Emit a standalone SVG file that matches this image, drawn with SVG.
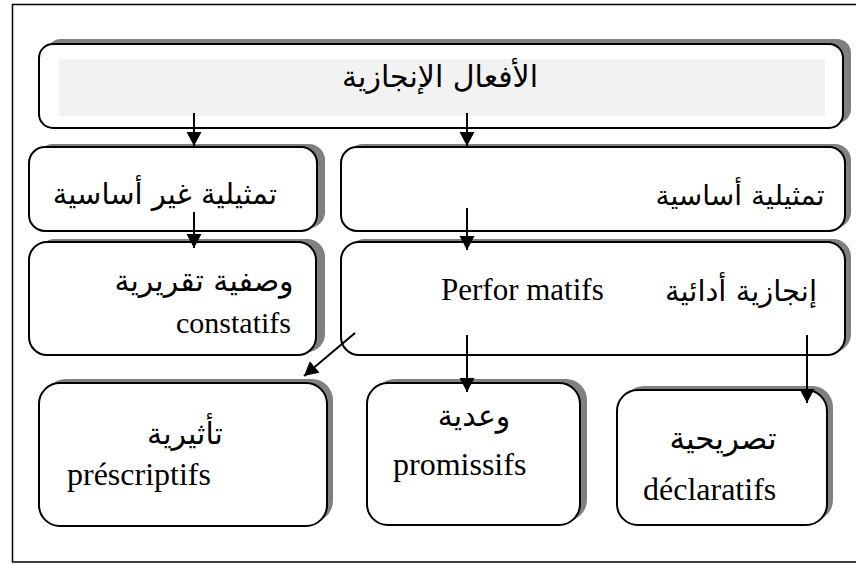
<svg xmlns="http://www.w3.org/2000/svg" width="856" height="564" viewBox="0 0 856 564">
<style>
.shadow{fill:#808080;stroke:none}
.box{fill:#fff;stroke:#000;stroke-width:2}
.conn line{stroke:#000;stroke-width:2;fill:none}
.ar{font-family:'DejaVu Sans',sans-serif;fill:#000;font-size:30px}
.lat{font-family:'Liberation Serif',serif;fill:#000;font-size:32px}
</style>
<defs>
<marker id="ah" markerUnits="userSpaceOnUse" markerWidth="15" markerHeight="16" refX="14" refY="7.5" orient="auto">
<path d="M0,0 L14,7.5 L0,15 z" fill="#000"/>
</marker>
</defs>
<rect x="12.5" y="4.5" width="860" height="557.5" fill="#fff" stroke="#000" stroke-width="1.5"/>

<g id="top">
<rect class="shadow" x="47" y="39" width="804" height="84" rx="14"/>
<rect class="box" x="39" y="44" width="804" height="84" rx="14"/>
<rect x="59" y="59" width="766" height="57" fill="#f2f2f2"/>
<text class="ar" x="440" y="87" text-anchor="middle">الأفعال الإنجازية</text>
</g>

<g id="nonbasic">
<rect class="shadow" x="37" y="144" width="288" height="84" rx="16"/>
<rect class="box" x="29" y="147" width="288" height="84" rx="16"/>
<text class="ar" x="165" y="204" text-anchor="middle" style="font-size:29px">تمثيلية غير أساسية</text>
</g>

<g id="basic">
<rect class="shadow" x="347" y="144" width="504" height="84" rx="16"/>
<rect class="box" x="341" y="147" width="504" height="84" rx="16"/>
<text class="ar" x="740" y="205" text-anchor="middle" style="font-size:28px">تمثيلية أساسية</text>
</g>

<g id="constatifs">
<rect class="shadow" x="37" y="239" width="288" height="113" rx="18"/>
<rect class="box" x="29" y="242" width="287" height="113" rx="18"/>
<text class="ar" x="204" y="291" text-anchor="middle">وصفية تقريرية</text>
<text class="lat" x="176" y="333" style="font-size:30px">constatifs</text>
</g>

<g id="performatifs">
<rect class="shadow" x="347" y="239" width="504" height="113" rx="18"/>
<rect class="box" x="341" y="242" width="504" height="113" rx="18"/>
<text class="lat" x="441" y="300" style="font-size:31px">Perfor matifs</text>
<text class="ar" x="741" y="301" text-anchor="middle" style="font-size:29px">إنجازية أدائية</text>
</g>

<g id="prescriptifs">
<rect class="shadow" x="45" y="379" width="288" height="143" rx="21"/>
<rect class="box" x="39" y="383" width="288" height="143" rx="21"/>
<text class="ar" x="185" y="444" text-anchor="middle">تأثيرية</text>
<text class="lat" x="67" y="485">préscriptifs</text>
</g>

<g id="promissifs">
<rect class="shadow" x="374" y="379" width="213" height="142" rx="21"/>
<rect class="box" x="367" y="383" width="213" height="142" rx="21"/>
<text class="ar" x="474" y="426" text-anchor="middle">وعدية</text>
<text class="lat" x="393" y="475">promissifs</text>
</g>

<g id="declaratifs">
<rect class="shadow" x="623" y="386" width="210" height="135" rx="21"/>
<rect class="box" x="617" y="390" width="210" height="135" rx="21"/>
<text class="ar" x="723" y="449" text-anchor="middle" style="font-size:31px">تصريحية</text>
<text class="lat" x="643" y="500">déclaratifs</text>
</g>

<g id="connectors" class="conn">
<line x1="194" y1="113" x2="194" y2="146" marker-end="url(#ah)"/>
<line x1="467" y1="113" x2="467" y2="146" marker-end="url(#ah)"/>
<line x1="194" y1="212" x2="194" y2="248" marker-end="url(#ah)"/>
<line x1="467" y1="208" x2="467" y2="250" marker-end="url(#ah)"/>
<line x1="467" y1="335" x2="467" y2="392" marker-end="url(#ah)"/>
<line x1="807" y1="335" x2="807" y2="403" marker-end="url(#ah)"/>
<line x1="355" y1="333" x2="304" y2="376" marker-end="url(#ah)"/>
</g>
</svg>
